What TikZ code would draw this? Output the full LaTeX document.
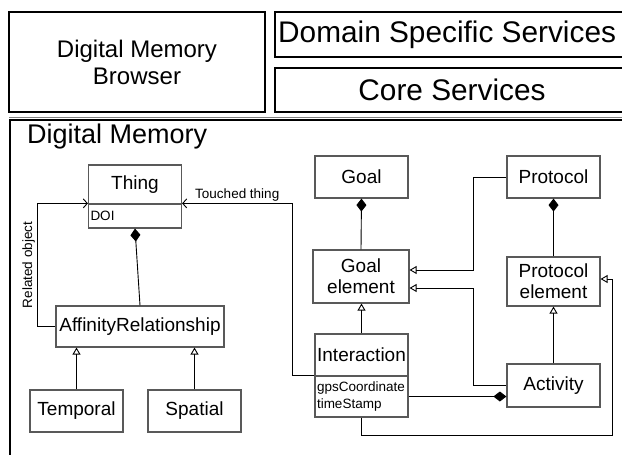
\documentclass[tikz,border=0pt]{standalone}
\usepackage{fontspec}
\setmainfont{Liberation Sans}
\usetikzlibrary{arrows.meta}

\tikzset{
	tierline/.style={draw,line width=2pt},
	tiertext/.style={font=\fontsize{24}{27}\selectfont,align=center,inner sep=1pt},
	servicetext/.style={font=\fontsize{29.8}{33}\selectfont,inner sep=1pt},
	umlclass/.style={draw=black!65,line width=1.2pt,minimum width=93pt,minimum height=42pt,
		align=center,inner sep=2pt,font=\fontsize{19}{21}\selectfont},
	umlattr/.style={draw=black!65,line width=1.2pt,minimum width=93pt,text width=89pt,
		inner xsep=2pt,align=left,font=\fontsize{13.5}{17}\selectfont},
	assoc/.style={-{Straight Barb[length=4pt,width=9pt]},line width=0.9pt},
	gen/.style={-{Triangle[open,length=7pt,width=8pt]},line width=0.9pt},
	compose/.style={-{Diamond[length=13pt,width=10pt]},line width=0.9pt},
	lbl/.style={font=\fontsize{13.5}{16}\selectfont,inner sep=2pt}
}

\begin{document}
\begin{tikzpicture}[x=1pt,y=-1pt]
	\useasboundingbox (0,0) rectangle (622,455);
	\clip (0,0) rectangle (622,455);

	% Upper tier: browser and services
	\draw [tierline] (9,12) rectangle (265,112);
	\node [tiertext] (browser) at (137,62) {Digital Memory\\Browser};
	\draw [tierline] (275,12) rectangle (640,57);
	\node [servicetext,anchor=west] (domain) at (277,34.5) {Domain Specific Services};
	\draw [tierline] (275,68) rectangle (640,112);
	\node [servicetext] (core) at (452,90) {Core Services};
	\draw [gray,line width=1pt] (9,117) -- (622,117);

	% The digital memory itself
	\draw [tierline] (10,120) rectangle (640,470);
	\node [anchor=west,font=\fontsize{27}{30}\selectfont,inner sep=1pt] (memory) at (26,137) {Digital Memory};

	% Classes
	\node [umlclass,minimum height=39pt] (thing) at (135,184.5) {Thing};
	\node [umlattr,minimum height=24pt] (thingattr) at (135,216) {DOI};
	\node [umlclass] (goal) at (361.5,177) {Goal};
	\node [umlclass] (protocol) at (553.5,177) {Protocol};
	\node [umlclass,minimum width=96pt,minimum height=53pt] (goalel) at (361,276.5) {Goal\\element};
	\node [umlclass,minimum height=49pt] (protel) at (553.5,281.5) {Protocol\\element};
	\node [umlclass,minimum width=168pt,minimum height=41pt] (aff) at (140,326.5) {AffinityRelationship};
	\node [umlclass] (inter) at (361.5,355) {Interaction};
	\node [umlattr,minimum height=41pt] (interattr) at (361.5,396.5) {gpsCoordinate\\timeStamp};
	\node [umlclass,minimum height=43pt] (activity) at (553.5,385.5) {Activity};
	\node [umlclass] (temporal) at (76.5,411) {Temporal};
	\node [umlclass] (spatial) at (194.5,411) {Spatial};

	% Composition
	\draw [compose] (aff.north) -- (thingattr.south);
	\draw [compose] (goalel.north) -- (goal.south);
	\draw [compose] (protel.north) -- (protocol.south);
	\draw [compose] (interattr.east) -- (interattr.east -| activity.west);

	% Generalisation
	\draw [gen] (temporal.north) -- (aff.south -| temporal.north);
	\draw [gen] (spatial.north) -- (aff.south -| spatial.north);
	\draw [gen] (inter.north) -- (goalel.south -| inter.north);
	\draw [gen] (activity.north) -- (protel.south);
	\draw [gen] (protocol.west) -- ++(-33,0) |- ([yshift=6.5pt]goalel.east);
	\draw [gen] (activity.west) -- ++(-33,0) |- ([yshift=-11.5pt]goalel.east);
	\draw [gen] (interattr.south) -- ++(0,18) -| ([xshift=12pt,yshift=2.5pt]protel.east) -- ([yshift=2.5pt]protel.east);

	% Associations
	\draw [assoc] (aff.west) -- ++(-18,0) |- (thingattr.north west)
		node [lbl,pos=0.25,sloped,above] {Related object};
	\draw [assoc] (interattr.north west) -- ++(-22,0) |- (thingattr.north east)
		node [lbl,pos=0.75,above] {Touched thing};
\end{tikzpicture}
\end{document}
